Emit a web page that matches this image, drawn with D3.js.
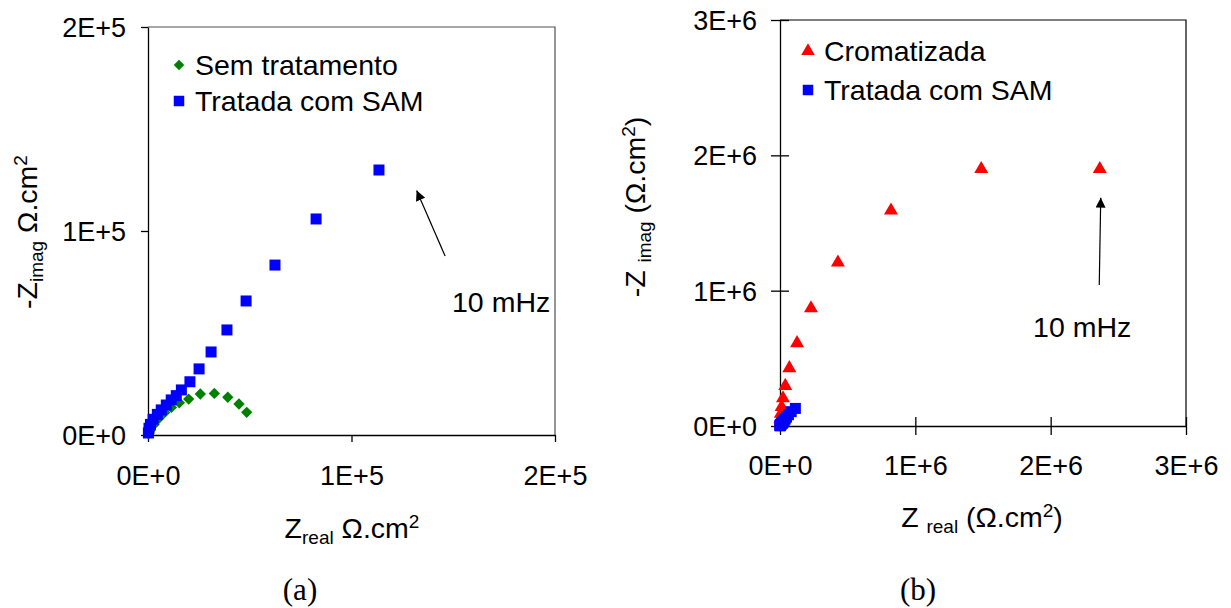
<!DOCTYPE html>
<html>
<head>
<meta charset="utf-8">
<script src="https://cdn.jsdelivr.net/npm/d3@7"></script>
<style>
  body { margin: 0; background: #fff; }
  svg text { font-family: "Liberation Sans", Arial, sans-serif; fill: #000; }
</style>
</head>
<body>
<div id="chart"></div>
<script>
let width = 1231,
    height = 608

// (a) Sem tratamento
let semX = [48500, 44700, 39200, 32600, 25700, 20000, 15400, 11500, 8200, 5400, 3000, 1200, 300]
let semY = [11100, 15200, 18500, 20400, 20100, 17600, 15800, 13500, 11000, 8200, 5200, 2400, 600]

// Tratada com SAM (same set in both panels)
let samX = [113500, 82600, 62400, 48200, 38800, 31000, 25100, 20600, 16400, 13900, 11400, 9000, 6500, 4600, 2500, 1200, 500, 200]
let samY = [129900, 105900, 83300, 65700, 51500, 40700, 32400, 26100, 22100, 19300, 17200, 14700, 12300, 10100, 7700, 5200, 3300, 1000]

// (b) Cromatizada
let cromX = [2363000, 1487000, 820000, 428000, 229000, 126000, 69000, 39000, 22000, 12000, 6000, 3000, 1000]
let cromY = [1899000, 1899000, 1592000, 1208000, 870000, 612000, 427000, 296000, 205000, 140000, 90000, 50000, 20000]

let ticksA = [0, 1e5, 2e5]
let tickLabelsA = ["0E+0", "1E+5", "2E+5"]
let ticksB = [0, 1e6, 2e6, 3e6]
let tickLabelsB = ["0E+0", "1E+6", "2E+6", "3E+6"]

// arrow annotations (data units): tail, tip, text position
let arrowA = { tail: [146000, 87700], tip: [132000, 119800], text: [149400, 60300] }
let arrowB = { tail: [2359000, 1042000], tip: [2370000, 1687000], text: [1870000, 658000] }

let svg = d3.select("#chart").append("svg")
  .attr("width", width)
  .attr("height", height)

svg.append("defs").append("marker")
  .attr("id", "head")
  .attr("viewBox", "0 0 10 10")
  .attr("refX", 10)
  .attr("refY", 5)
  .attr("markerWidth", 10)
  .attr("markerHeight", 10)
  .attr("markerUnits", "userSpaceOnUse")
  .attr("orient", "auto")
  .append("path")
  .attr("d", "M0,0 L10,5 L0,10 Z")
  .attr("fill", "#000")

let fs = 27,   // tick labels
    fs2 = 28.5 // legend, notes, titles

function zip(xs, ys) { return xs.map((x, i) => [x, ys[i]]) }

// ---------- panel (a) ----------
let xA = d3.scaleLinear().domain([0, 2e5]).range([148, 555])
let yA = d3.scaleLinear().domain([0, 2e5]).range([435, 27])

// frame top/right
svg.append("path")
  .attr("d", `M${xA(0)},${yA(2e5)} H${xA(2e5)} V${yA(0)}`)
  .attr("fill", "none").attr("stroke", "#505050").attr("stroke-width", 1.2)

let gxA = svg.append("g")
  .attr("transform", `translate(0,${yA(0)})`)
  .call(d3.axisBottom(xA).tickValues(ticksA).tickSize(7).tickSizeOuter(0)
    .tickFormat((d, i) => tickLabelsA[i]))
let gyA = svg.append("g")
  .attr("transform", `translate(${xA(0)},0)`)
  .call(d3.axisLeft(yA).tickValues(ticksA).tickSize(7).tickSizeOuter(0)
    .tickFormat((d, i) => tickLabelsA[i]))

gxA.selectAll("text").attr("y", 50).attr("dy", 0)
gyA.selectAll("text").attr("x", -22).attr("dy", "0.35em")

// ---------- panel (b) ----------
let xB = d3.scaleLinear().domain([0, 3e6]).range([780, 1186])
let yB = d3.scaleLinear().domain([0, 3e6]).range([426, 20])

svg.append("path")
  .attr("d", `M${xB(0)},${yB(3e6)} H${xB(3e6)} V${yB(0)}`)
  .attr("fill", "none").attr("stroke", "#000").attr("stroke-width", 1.2)

let gxB = svg.append("g")
  .attr("transform", `translate(0,${yB(0)})`)
  .call(d3.axisBottom(xB).tickValues(ticksB).tickSize(9).tickSizeOuter(0)
    .tickFormat((d, i) => tickLabelsB[i]))
let gyB = svg.append("g")
  .attr("transform", `translate(${xB(0)},0)`)
  .call(d3.axisLeft(yB).tickValues(ticksB).tickSize(9).tickSizeOuter(0)
    .tickFormat((d, i) => tickLabelsB[i]))

// cross ticks on panel (b)
gxB.selectAll(".tick line").attr("y1", -9)
gyB.selectAll(".tick line").attr("x1", 9)
gxB.selectAll("text").attr("y", 49).attr("dy", 0)
gyB.selectAll("text").attr("x", -23).attr("dy", "0.35em")

svg.selectAll(".domain, .tick line").attr("stroke", "#000").attr("stroke-width", 1.3)
svg.selectAll(".tick text").style("font-size", fs + "px")
  .style("font-family", "'Liberation Sans', Arial, sans-serif")

// ---------- markers ----------
let diamond = d3.symbol().type(d3.symbolSquare).size(64)
let square = d3.symbol().type(d3.symbolSquare).size(121)
let triangle = d3.symbol().type(d3.symbolTriangle).size(85)

svg.append("g").selectAll("path")
  .data(zip(semX, semY))
  .enter().append("path")
  .attr("d", diamond)
  .attr("transform", d => `translate(${xA(d[0])},${yA(d[1])}) rotate(45)`)
  .attr("fill", "#008000")

svg.append("g").selectAll("path")
  .data(zip(samX, samY))
  .enter().append("path")
  .attr("d", square)
  .attr("transform", d => `translate(${xA(d[0])},${yA(d[1])})`)
  .attr("fill", "#0000FF")

svg.append("g").selectAll("path")
  .data(zip(cromX, cromY))
  .enter().append("path")
  .attr("d", triangle)
  .attr("transform", d => `translate(${xB(d[0])},${yB(d[1])})`)
  .attr("fill", "#FF0000")

svg.append("g").selectAll("path")
  .data(zip(samX, samY))
  .enter().append("path")
  .attr("d", square)
  .attr("transform", d => `translate(${xB(d[0])},${yB(d[1])})`)
  .attr("fill", "#0000FF")

// ---------- arrows ----------
function arrow(a, x, y) {
  svg.append("line")
    .attr("x1", x(a.tail[0])).attr("y1", y(a.tail[1]))
    .attr("x2", x(a.tip[0])).attr("y2", y(a.tip[1]))
    .attr("stroke", "#000").attr("stroke-width", 1.2)
    .attr("marker-end", "url(#head)")
  svg.append("text")
    .attr("x", x(a.text[0])).attr("y", y(a.text[1]))
    .style("font-size", fs2 + "px")
    .text("10 mHz")
}
arrow(arrowA, xA, yA)
arrow(arrowB, xB, yB)

// ---------- legends ----------
function legendRow(x, y, sym, color, label, rot) {
  svg.append("path")
    .attr("d", sym)
    .attr("transform", `translate(${x},${y - 10})` + (rot ? " rotate(45)" : ""))
    .attr("fill", color)
  svg.append("text")
    .attr("x", x + 16).attr("y", y)
    .style("font-size", fs2 + "px")
    .text(label)
}
legendRow(179, 75, d3.symbol().type(d3.symbolSquare).size(55), "#008000", "Sem tratamento", true)
legendRow(179, 111, d3.symbol().type(d3.symbolSquare).size(110), "#0000FF", "Tratada com SAM")
legendRow(808, 61, d3.symbol().type(d3.symbolTriangle).size(80), "#FF0000", "Cromatizada")
legendRow(808, 100, d3.symbol().type(d3.symbolSquare).size(110), "#0000FF", "Tratada com SAM")

// ---------- axis titles ----------
function label(g, parts) {
  let t = g.append("text").style("font-size", fs2 + "px").attr("text-anchor", "middle")
  parts.forEach(p => {
    let s = t.append("tspan").text(p[0])
    if (p[1] === "sub") s.style("font-size", "19px").attr("baseline-shift", "-30%")
    if (p[1] === "sup") s.style("font-size", "19px").attr("baseline-shift", "55%")
  })
  return t
}

label(svg.append("g").attr("transform", "translate(352,538)"),
  [["Z"], ["real", "sub"], [" Ω.cm"], ["2", "sup"]])
label(svg.append("g").attr("transform", "translate(37,232) rotate(-90)"),
  [["-Z"], ["imag", "sub"], [" Ω.cm"], ["2", "sup"]])
label(svg.append("g").attr("transform", "translate(982,527)"),
  [["Z "], ["real", "sub"], [" (Ω.cm"], ["2", "sup"], [")"]])
label(svg.append("g").attr("transform", "translate(645,207) rotate(-90)"),
  [["-Z "], ["imag", "sub"], [" (Ω.cm"], ["2", "sup"], [")"]])

// panel captions
svg.append("text").attr("x", 300).attr("y", 600).attr("text-anchor", "middle")
  .style("font-family", "'Liberation Serif', 'Times New Roman', serif")
  .style("font-size", "31px").text("(a)")
svg.append("text").attr("x", 918).attr("y", 600).attr("text-anchor", "middle")
  .style("font-family", "'Liberation Serif', 'Times New Roman', serif")
  .style("font-size", "31px").text("(b)")
</script>
</body>
</html>
